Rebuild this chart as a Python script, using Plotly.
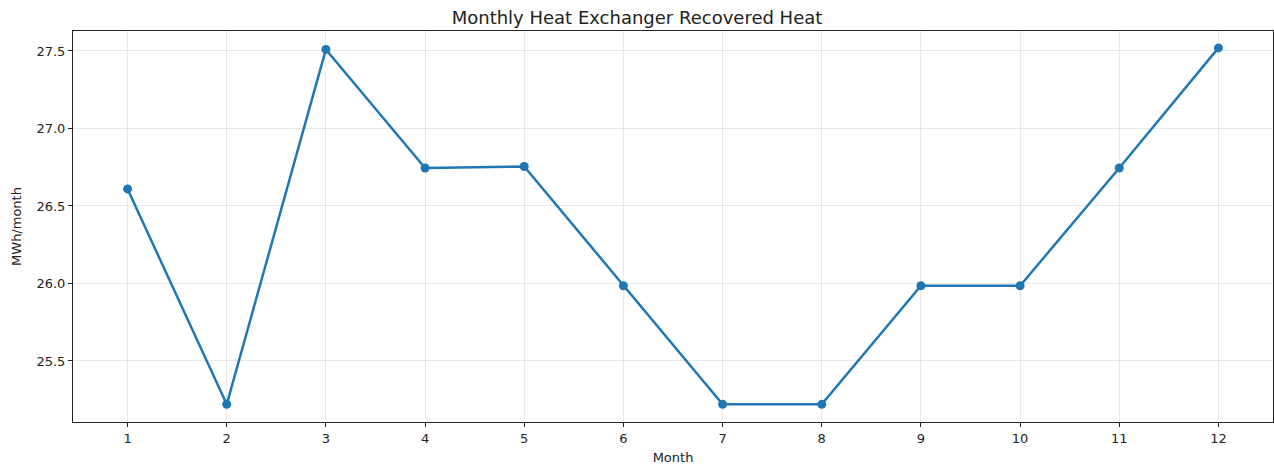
import plotly.graph_objects as go

months = list(range(1, 13))
recovered_heat = [26.61, 25.22, 27.51, 26.745, 26.755, 25.985,
                  25.22, 25.22, 25.985, 25.985, 26.745, 27.52]
y_ticks = [25.5, 26.0, 26.5, 27.0, 27.5]

fig = go.Figure()
fig.add_trace(go.Scatter(
    x=months, y=recovered_heat, mode="lines+markers",
    line=dict(color="#1f77b4", width=2.5),
    marker=dict(size=9, color="#1f77b4"),
    showlegend=False,
))

axis_style = dict(
    showline=True, linecolor="#222", linewidth=1, mirror=True,
    showgrid=True, gridcolor="rgba(0,0,0,0.09)", gridwidth=1,
    ticks="outside", ticklen=4, tickcolor="#222",
    zeroline=False,
    tickfont=dict(family="DejaVu Sans", size=13, color="#222"),
)

fig.update_layout(
    width=1274, height=468,
    margin=dict(l=73, r=1, t=31, b=46),
    paper_bgcolor="white", plot_bgcolor="white",
    font=dict(family="DejaVu Sans", size=13, color="#222"),
    title=dict(text="Monthly Heat Exchanger Recovered Heat",
               x=0.5, xanchor="center", y=0.975, yanchor="top",
               font=dict(size=18, color="#222")),
    xaxis=dict(axis_style, range=[0.45, 12.55], tickvals=months,
               title=dict(text="Month", standoff=8, font=dict(size=13))),
    yaxis=dict(axis_style, range=[25.106, 27.629], tickvals=y_ticks,
               tickformat=".1f",
               title=dict(text="MWh/month", standoff=11, font=dict(size=13))),
)

fig.write_html("out.html",
               config={"displayModeBar": False},
               post_script="document.body.style.margin='0';"
                           "document.body.style.overflow='hidden';")
